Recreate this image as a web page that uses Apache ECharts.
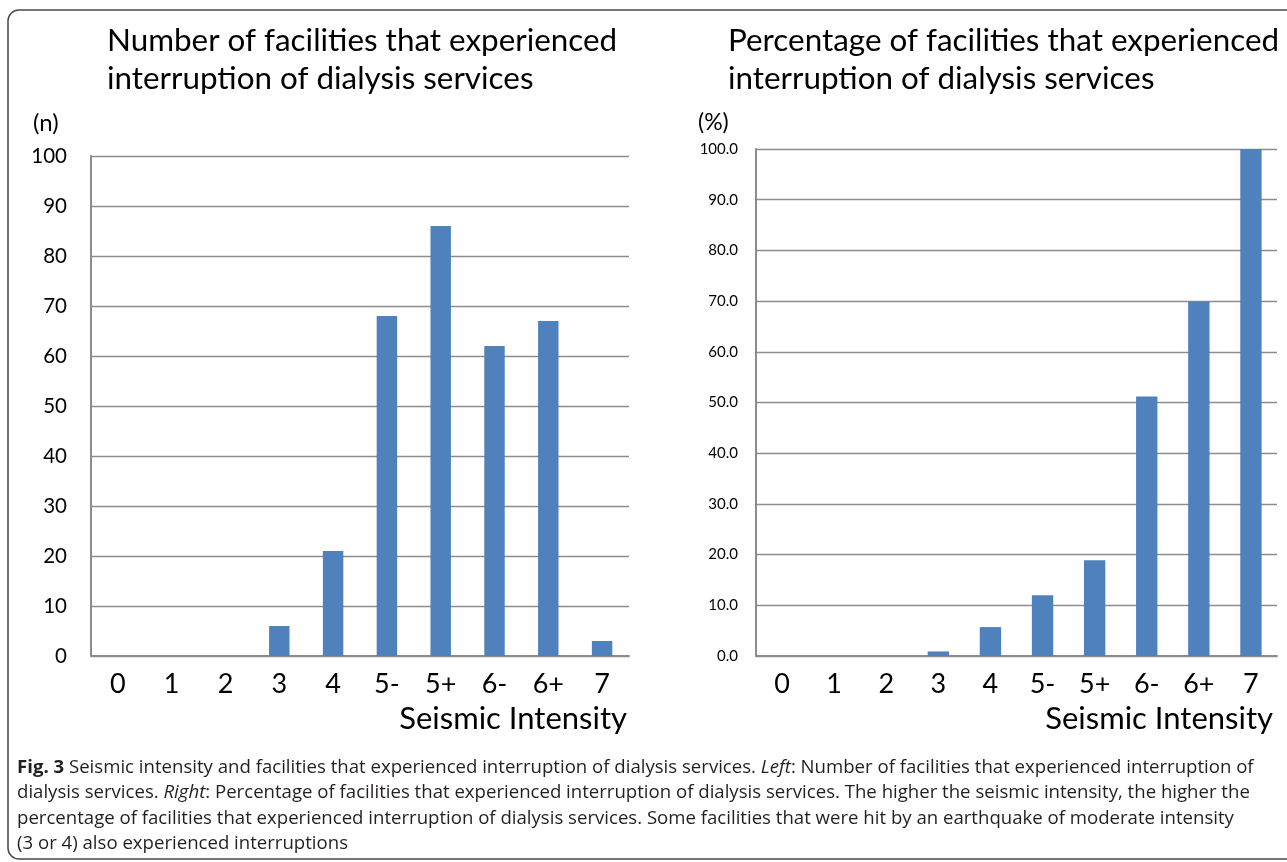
<!DOCTYPE html>
<html><head><meta charset="utf-8">
<script src="https://cdn.jsdelivr.net/npm/echarts@6/dist/echarts.min.js"></script>
<style>html,body{margin:0;padding:0;background:#fff}#c{width:1287px;height:862px}</style>
</head><body><div id="c"></div>
<script>
const categories = ['0','1','2','3','4','5-','5+','6-','6+','7'];
const countValues = [0,0,0,6,21,68,86,62,67,3];
const percentValues = [0,0,0,0.9,5.7,12.0,18.9,51.2,69.9,100.0];
const leftTitle = 'Number of facilities that experienced\ninterruption of dialysis services';
const rightTitle = 'Percentage of facilities that experienced\ninterruption of dialysis services';
const captionLines = [
  '{b|Fig. 3} Seismic intensity and facilities that experienced interruption of dialysis services. {i|Left}: Number of facilities that experienced interruption of',
  'dialysis services. {i|Right}: Percentage of facilities that experienced interruption of dialysis services. The higher the seismic intensity, the higher the',
  'percentage of facilities that experienced interruption of dialysis services. Some facilities that were hit by an earthquake of moderate intensity',
  '(3 or 4) also experienced interruptions'
];

const FONT = 'Lato';
const CAPFONT = 'Open Sans';
const CAPSIZE = 18.6;
const barColor = '#4F81BD';
const gridGrey = '#8c8c8c';

const chart = echarts.init(document.getElementById('c'), null, {renderer:'canvas'});

function xAxis(gi, fs){
  return {type:'category', gridIndex:gi, data:categories,
    axisLine:{lineStyle:{color:gridGrey, width:2}}, axisTick:{show:false},
    axisLabel:{color:'#000', fontSize:fs, fontFamily:FONT, margin:15}};
}
function yAxis(gi, fs, fmt, margin){
  return {type:'value', gridIndex:gi, min:0, max:100, interval:10,
    axisLine:{show:true, lineStyle:{color:gridGrey, width:2}}, axisTick:{show:false},
    splitLine:{lineStyle:{color:gridGrey, width:1.3}},
    axisLabel:{color:'#000', fontSize:fs, fontFamily:FONT, margin:margin, formatter:fmt}};
}

const caption = captionLines.map((t,i)=>({
  type:'text', left:17, top:758 + i*25.5,
  style:{text:t, fontFamily:CAPFONT, fontSize:CAPSIZE, fill:'#231f20',
    rich:{b:{fontWeight:'bold', fontFamily:CAPFONT, fontSize:CAPSIZE, fill:'#231f20'},
          i:{fontStyle:'italic', fontFamily:CAPFONT, fontSize:CAPSIZE, fill:'#231f20'}}}
}));

chart.setOption({
  animation:false,
  title:[
    {text:leftTitle, left:102, top:17, textStyle:{fontFamily:FONT, fontWeight:'normal', fontSize:31.4, lineHeight:38, color:'#000'}},
    {text:rightTitle, left:723, top:17, textStyle:{fontFamily:FONT, fontWeight:'normal', fontSize:31.4, lineHeight:38, color:'#000'}}
  ],
  grid:[
    {left:91, top:156, width:538, height:500},
    {left:756, top:149, width:521, height:507}
  ],
  xAxis:[xAxis(0,27), xAxis(1,27)],
  yAxis:[yAxis(0,20.5,v=>v,24), yAxis(1,15,v=>v.toFixed(1),18)],
  series:[
    {type:'bar', xAxisIndex:0, yAxisIndex:0, data:countValues, barWidth:'38%',
     itemStyle:{color:barColor}},
    {type:'bar', xAxisIndex:1, yAxisIndex:1, data:percentValues, barWidth:'41%',
     itemStyle:{color:barColor}}
  ],
  graphic:[
    {type:'rect', shape:{x:8, y:10, width:1300, height:849, r:11}, style:{fill:'none', stroke:'#4a4a4a', lineWidth:1.5}, z:-1},
    {type:'text', left:33, top:111, style:{text:'(n)', fontFamily:FONT, fontSize:24, fill:'#000'}},
    {type:'text', left:698, top:111, style:{text:'(%)', fontFamily:FONT, fontSize:23, fill:'#000'}},
    {type:'text', right:1287-627, top:703, style:{text:'Seismic Intensity', fontFamily:FONT, fontSize:31, fill:'#000'}},
    {type:'text', right:1287-1273, top:703, style:{text:'Seismic Intensity', fontFamily:FONT, fontSize:31, fill:'#000'}},
    ...caption
  ]
});
</script></body></html>
